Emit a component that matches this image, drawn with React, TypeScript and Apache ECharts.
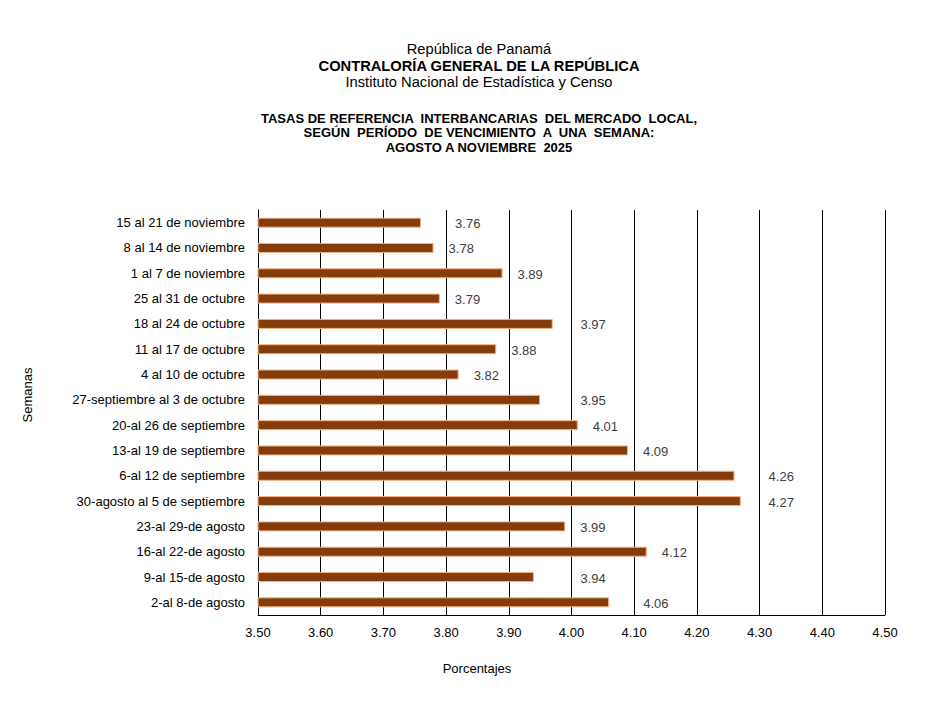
import React, { useEffect, useRef } from "react";
import * as echarts from "echarts";

const categories = [
  "2-al 8-de agosto",
  "9-al 15-de agosto",
  "16-al 22-de agosto",
  "23-al 29-de agosto",
  "30-agosto al 5 de septiembre",
  "6-al 12 de septiembre",
  "13-al 19 de septiembre",
  "20-al 26 de septiembre",
  "27-septiembre al 3 de octubre",
  "4 al 10 de octubre",
  "11 al 17 de octubre",
  "18 al 24 de octubre",
  "25 al 31 de octubre",
  "1 al 7 de noviembre",
  "8 al 14 de noviembre",
  "15 al 21 de noviembre",
];

const values = [4.06, 3.94, 4.12, 3.99, 4.27, 4.26, 4.09, 4.01, 3.95, 3.82, 3.88, 3.97, 3.79, 3.89, 3.78, 3.76];

const xTicks = [3.5, 3.6, 3.7, 3.8, 3.9, 4.0, 4.1, 4.2, 4.3, 4.4, 4.5];

const titleLines = ["República de Panamá", "CONTRALORÍA GENERAL DE LA REPÚBLICA", "Instituto Nacional de Estadística y Censo"];
const subtitleLines = [
  "TASAS DE REFERENCIA  INTERBANCARIAS  DEL MERCADO  LOCAL,",
  "SEGÚN  PERÍODO  DE VENCIMIENTO  A  UNA  SEMANA:",
  "AGOSTO A NOVIEMBRE  2025",
];

const FONT = "'Liberation Sans', Arial, sans-serif";

export default function App() {
  const ref = useRef<HTMLDivElement>(null);
  useEffect(() => {
    if (!ref.current) return;
    const chart = echarts.init(ref.current, null, { renderer: "svg" });
    const labelStyle = {
      show: true,
      position: "right",
      distance: 15,
      color: "#404040",
      fontSize: 13,
      fontFamily: FONT,
      formatter: (p: any) => Number(p.value).toFixed(2),
    };
    chart.setOption({
      animation: false,
      backgroundColor: "#ffffff",
      textStyle: { fontFamily: FONT },
      grid: { left: 258, right: 53, top: 210, bottom: 90, containLabel: false },
      xAxis: {
        type: "value",
        min: 3.5,
        max: 4.5,
        interval: 0.1,
        axisLine: { show: true, lineStyle: { color: "#000", width: 1 } },
        axisTick: { show: false },
        splitLine: { show: true, lineStyle: { color: "#000", width: 1 } },
        axisLabel: {
          color: "#000",
          fontSize: 13,
          fontFamily: FONT,
          margin: 11,
          formatter: (v: number) => v.toFixed(2),
        },
      },
      yAxis: {
        type: "category",
        data: categories,
        axisLine: { show: true, lineStyle: { color: "#000", width: 1 } },
        axisTick: { show: false },
        splitLine: { show: false },
        axisLabel: { color: "#000", fontSize: 13, fontFamily: FONT, margin: 13 },
      },
      series: [
        {
          type: "bar",
          data: values,
          barWidth: 10,
          itemStyle: { color: "#843C0C", borderColor: "#F4B183", borderWidth: 1 },
          label: labelStyle,
        },
      ],
      graphic: [
        ...titleLines.map((t, i) => ({
          type: "text",
          x: 479,
          y: 49 + i * 16.5,
          style: {
            text: t,
            fontSize: 14.7,
            fontWeight: i === 1 ? "bold" : "normal",
            fontFamily: FONT,
            fill: "#000",
            textAlign: "center",
            textVerticalAlign: "middle",
          },
        })),
        ...subtitleLines.map((t, i) => ({
          type: "text",
          x: 479,
          y: 118 + i * 14.6,
          style: {
            text: t,
            fontSize: 13,
            fontWeight: "bold",
            fontFamily: FONT,
            fill: "#000",
            textAlign: "center",
            textVerticalAlign: "middle",
          },
        })),
        {
          type: "text",
          x: 27,
          y: 395,
          rotation: Math.PI / 2,
          style: {
            text: "Semanas",
            fontSize: 13,
            fontFamily: FONT,
            fill: "#000",
            textAlign: "center",
            textVerticalAlign: "middle",
          },
        },
        {
          type: "text",
          x: 477,
          y: 668,
          style: {
            text: "Porcentajes",
            fontSize: 13,
            fontFamily: FONT,
            fill: "#000",
            textAlign: "center",
            textVerticalAlign: "middle",
          },
        },
      ],
    });

    // Shift value labels past a gridline when they would overlap it (as in the source layout)
    const gridPx = xTicks.map((t) => chart.convertToPixel({ xAxisIndex: 0 }, t) as number);
    const labelW = 25;
    const data = values.map((v) => {
      const end = chart.convertToPixel({ xAxisIndex: 0 }, v) as number;
      const start = end + 15;
      let dx = 0;
      const hit = gridPx.find((g) => g > start - 2 && g < start + labelW);
      if (hit !== undefined) dx = hit + 9 - start;
      return { value: v, label: { offset: [dx, 1] } };
    });
    chart.setOption({ series: [{ data }] });

    return () => chart.dispose();
  }, []);
  return <div ref={ref} style={{ position: "fixed", left: 0, top: 0, width: 938, height: 705 }} />;
}
